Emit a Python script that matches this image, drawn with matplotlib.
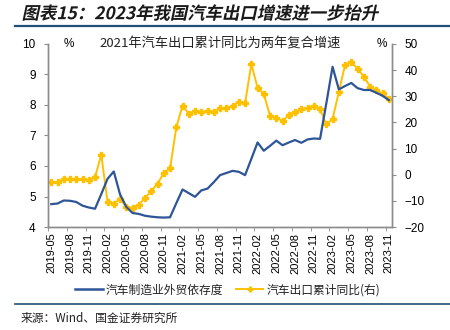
import numpy as np
import matplotlib
matplotlib.use("Agg")
from matplotlib import pyplot as plt
from matplotlib.lines import Line2D
from matplotlib.patheffects import AbstractPathEffect
from matplotlib.transforms import Affine2D

plt.rcParams['font.family'] = ['Liberation Sans', 'Noto Sans CJK SC', 'DejaVu Sans']

# monthly series, 2019-05 .. 2023-11
months = [f"{y}-{m:02d}" for y in range(2019, 2024) for m in range(1, 13)]
months = months[months.index("2019-05"):months.index("2023-11") + 1]

# 汽车制造业外贸依存度 (%), left axis
dependence = [4.75, 4.77, 4.87, 4.86, 4.82, 4.70, 4.64, 4.60, 5.08, 5.58,
              5.82, 5.07, 4.66, 4.46, 4.43, 4.37, 4.34, 4.32, 4.31, 4.32,
              4.78, 5.23, 5.11, 4.99, 5.20, 5.26, 5.47, 5.70, 5.77, 5.84,
              5.81, 5.70, 6.23, 6.77, 6.50, 6.66, 6.83, 6.68, 6.77, 6.85,
              6.76, 6.87, 6.90, 6.89, 8.05, 9.25, 8.51, 8.62, 8.72, 8.55,
              8.49, 8.49, 8.40, 8.30, 8.16]

# 汽车出口累计同比 (%), right axis
export_yoy = [-2.7, -2.9, -1.8, -1.8, -1.8, -1.8, -2.2, -0.9, 7.7, -10.4,
              -11.2, -9.1, -12.3, -12.7, -11.4, -8.9, -6.3, -3.4, 0.6, 2.4,
              18.1, 26.4, 23.2, 24.5, 23.9, 24.5, 23.9, 25.4, 25.4, 26.4,
              27.7, 27.3, 42.3, 33.3, 30.8, 22.5, 21.8, 20.5, 22.8, 23.9,
              25.1, 25.6, 26.2, 25.0, 19.2, 21.3, 31.6, 42.0, 43.0, 40.5,
              37.5, 33.7, 32.2, 31.1, 29.1]

blue = "#2e5597"
gold = "#ffc000"
axis_grey = "#8c8c8c"
rule_blue = "#1f4e79"


class Slant(AbstractPathEffect):
    """Shear glyph outlines around the text baseline (fake italic for CJK)."""
    def __init__(self, deg=12):
        super().__init__()
        self.deg = deg

    def draw_path(self, renderer, gc, tpath, affine, rgbFace=None):
        ty = affine.get_matrix()[1, 2]
        shear = Affine2D().translate(0, -ty).skew_deg(self.deg, 0).translate(0, ty)
        renderer.draw_path(gc, tpath, affine + shear, rgbFace)


x = np.arange(len(months))

fig = plt.figure(figsize=(4.5, 3.3), dpi=100)
ax = fig.add_axes([0.107, 0.312, 0.764, 0.555])
ax2 = ax.twinx()

ax.plot(x, dependence, color=blue, lw=1.6, zorder=3)
ax2.plot(x, export_yoy, color=gold, lw=1.4, marker='P', ms=4.5,
         mec=gold, mfc=gold, zorder=2)
ax.set_zorder(ax2.get_zorder() + 1)
ax.patch.set_visible(False)

ax.set_xlim(-0.5, len(months) - 0.5)
ax.set_ylim(4, 10)
ax2.set_ylim(-20, 50)
ax.set_yticks(range(4, 11))
ax2.set_yticks(range(-20, 51, 10))

ax.set_xticks(x[::3])
ax.set_xticklabels(months[::3], rotation=90, fontsize=8)
ax.tick_params(axis='x', which='major', length=0, pad=4)
ax.set_xticks(np.arange(-0.5, len(months), 3), minor=True)
ax.tick_params(axis='x', which='minor', length=3, color=axis_grey, direction='out')
ax.tick_params(axis='y', length=3, color=axis_grey, labelsize=8.5, pad=6)
ax2.tick_params(axis='y', length=3, color=axis_grey, labelsize=8.5, pad=6)

for a in (ax, ax2):
    a.spines['top'].set_visible(False)
    for s in ('left', 'right', 'bottom'):
        a.spines[s].set_color(axis_grey)
        a.spines[s].set_linewidth(1.0)

cjk = ['Noto Sans CJK SC', 'DejaVu Sans']
ax.text(0.045, 1.0, "%", transform=ax.transAxes, fontsize=8.5, va='center')
ax.text(0.985, 1.0, "%", transform=ax.transAxes, fontsize=8.5, va='center', ha='right')
ax.text(0.5, 1.0, "2021年汽车出口累计同比为两年复合增速", transform=ax.transAxes,
        fontsize=9.5, va='center', ha='center', family=cjk, color='#222222')

handles = [Line2D([], [], color=blue, lw=1.8),
           Line2D([], [], color=gold, lw=1.4, marker='P', ms=3.5, mec=gold, mfc=gold)]
fig.legend(handles, ["汽车制造业外贸依存度", "汽车出口累计同比(右)"],
           loc='center', bbox_to_anchor=(0.506, 0.121), ncol=2, frameon=False,
           prop={'family': cjk, 'size': 8.5}, handlelength=2.3, columnspacing=1.1,
           handletextpad=0.25, labelcolor='#222222')

fig.text(0.048, 0.957, "图表15：2023年我国汽车出口增速进一步抬升", fontsize=12.5,
         fontweight='bold', family=cjk, va='center', color='#1a1a1a',
         path_effects=[Slant(12)])
fig.add_artist(Line2D([0.033, 1.0], [0.92, 0.92], color=rule_blue, lw=1.6))
fig.add_artist(Line2D([0.033, 1.0], [0.079, 0.079], color=rule_blue, lw=1.2))
fig.text(0.045, 0.036, "来源：Wind、国金证券研究所", fontsize=8.5, family=cjk,
         va='center', color='#222222')

fig.savefig("out.png", dpi=100)
